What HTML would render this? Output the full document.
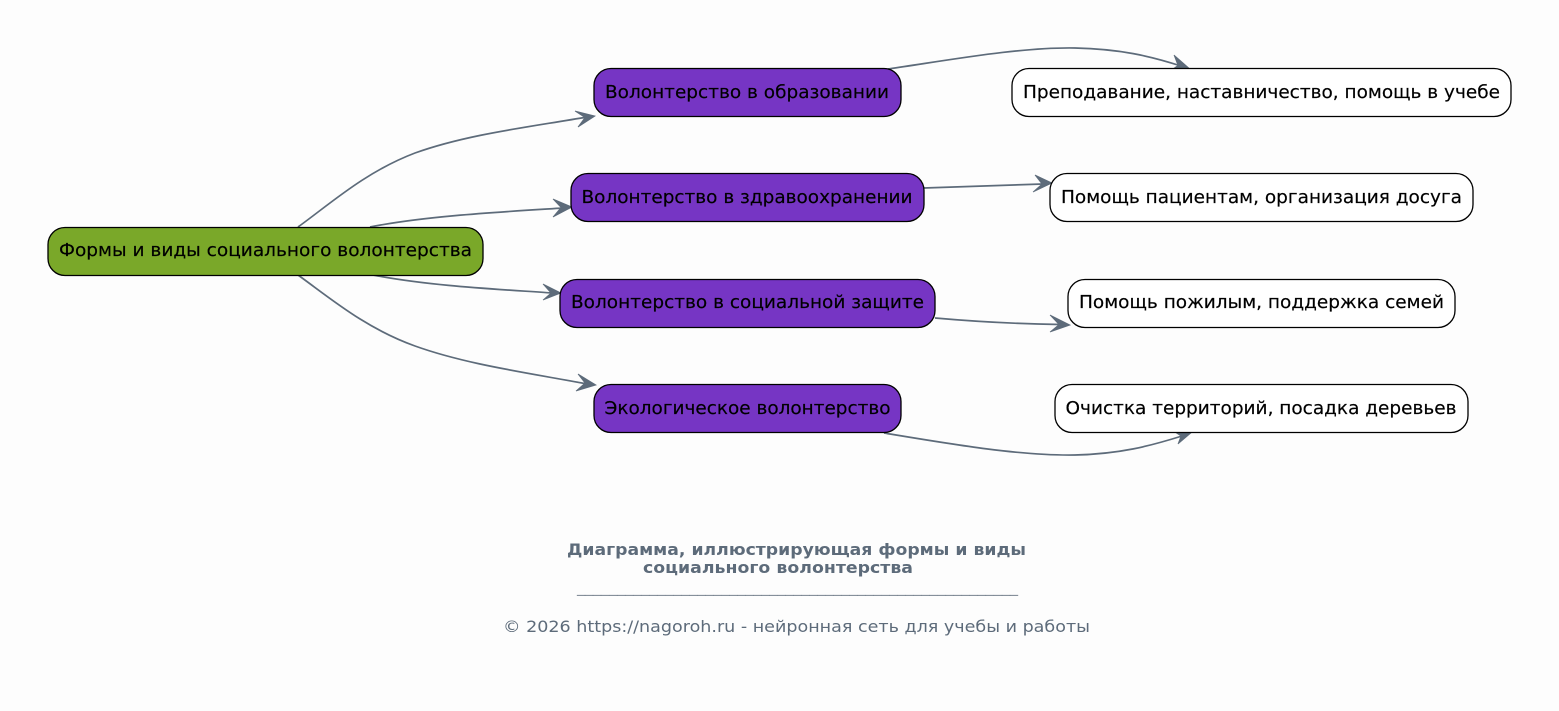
<!DOCTYPE html>
<html><head><meta charset="utf-8"><style>
html,body{margin:0;padding:0;background:#fdfdfd;width:1559px;height:711px;overflow:hidden}
svg{display:block}
text{font-family:"DejaVu Sans",sans-serif}
.n{font-size:18px;fill:#000;stroke:#000;stroke-width:.18;text-anchor:middle}
.e{fill:none;stroke:#5d6b7a;stroke-width:1.7}
.a{fill:#5d6b7a;stroke:#5d6b7a;stroke-width:.8;stroke-linejoin:miter}
.b{stroke:#000;stroke-width:1.3}
</style></head><body>
<svg width="1559" height="711" viewBox="0 0 1559 711" xmlns="http://www.w3.org/2000/svg">
<rect width="1559" height="711" fill="#fdfdfd"/>
<path class="e" d="M298 227C330 204 365 172 415 153C468 134 530 127 587 117"/>
<polygon class="a" points="595,116 575,111 585,117.500 578,127"/>
<path class="e" d="M370 227C425 216 500 212 563 208"/>
<polygon class="a" points="572,207 553,199 561,207.500 553,217"/>
<path class="e" d="M373 275C430 286 495 289 552 293"/>
<polygon class="a" points="561,293 543,284 551,293 543,300"/>
<path class="e" d="M298 275C330 298 365 328 415 346C468 365 530 373 587 384"/>
<polygon class="a" points="596,385 578,374 585,383 576,391"/>
<path class="e" d="M888 69C950 60 1020 47 1075 48C1120 49 1150 56 1181 66"/>
<polygon class="a" points="1190,69 1174,55 1178,65.500 1170,71"/>
<path class="e" d="M924 188L1043 184"/>
<polygon class="a" points="1052,183 1035,175 1042,184 1033,192"/>
<path class="e" d="M935 318C980 322 1025 324 1060 324.500"/>
<polygon class="a" points="1070,325 1050,315 1059,324.500 1050,332"/>
<path class="e" d="M884 433C950 444 1020 456 1075 455C1120 454 1150 446 1182 436"/>
<polygon class="a" points="1192,432 1172,430 1181,436 1178,444"/>
<rect class="b" x="48" y="227.500" width="435" height="48" rx="17" fill="#7aa829"/>
<rect class="b" x="594" y="68.500" width="307" height="48" rx="17" fill="#7635c4"/>
<rect class="b" x="571" y="173.500" width="353" height="48" rx="17" fill="#7635c4"/>
<rect class="b" x="560" y="279.500" width="375" height="48" rx="17" fill="#7635c4"/>
<rect class="b" x="594" y="384.500" width="307" height="48" rx="17" fill="#7635c4"/>
<rect class="b" x="1012" y="68.500" width="499" height="48" rx="17" fill="#fff"/>
<rect class="b" x="1050" y="173.500" width="423" height="48" rx="17" fill="#fff"/>
<rect class="b" x="1068" y="279.500" width="387" height="48" rx="17" fill="#fff"/>
<rect class="b" x="1055" y="384.500" width="413" height="48" rx="17" fill="#fff"/>
<text class="n" x="265.500" y="256" textLength="413" lengthAdjust="spacingAndGlyphs">Формы и виды социального волонтерства</text>
<text class="n" x="747" y="98" textLength="284" lengthAdjust="spacingAndGlyphs">Волонтерство в образовании</text>
<text class="n" x="747" y="203" textLength="331" lengthAdjust="spacingAndGlyphs">Волонтерство в здравоохранении</text>
<text class="n" x="747.500" y="308" textLength="353" lengthAdjust="spacingAndGlyphs">Волонтерство в социальной защите</text>
<text class="n" x="747.500" y="414" textLength="286" lengthAdjust="spacingAndGlyphs">Экологическое волонтерство</text>
<text class="n" x="1261.500" y="98" textLength="477" lengthAdjust="spacingAndGlyphs">Преподавание, наставничество, помощь в учебе</text>
<text class="n" x="1261.500" y="203" textLength="401" lengthAdjust="spacingAndGlyphs">Помощь пациентам, организация досуга</text>
<text class="n" x="1261.500" y="308" textLength="365" lengthAdjust="spacingAndGlyphs">Помощь пожилым, поддержка семей</text>
<text class="n" x="1261" y="414" textLength="391" lengthAdjust="spacingAndGlyphs">Очистка территорий, посадка деревьев</text>
<text x="567" y="555" font-size="16" font-weight="bold" fill="#5d6b7a" textLength="459" lengthAdjust="spacingAndGlyphs">Диаграмма, иллюстрирующая формы и виды</text>
<text x="643" y="573" font-size="16" font-weight="bold" fill="#5d6b7a" textLength="270" lengthAdjust="spacingAndGlyphs">социального волонтерства</text>
<text x="577" y="592" font-size="16" fill="#5d6b7a" fill-opacity=".75" textLength="441" lengthAdjust="spacingAndGlyphs">_______________________________________________________</text>
<text x="503" y="632" font-size="16" fill="#5d6b7a" textLength="587" lengthAdjust="spacingAndGlyphs">© 2026 https://nagoroh.ru - нейронная сеть для учебы и работы</text>
</svg>
</body></html>
